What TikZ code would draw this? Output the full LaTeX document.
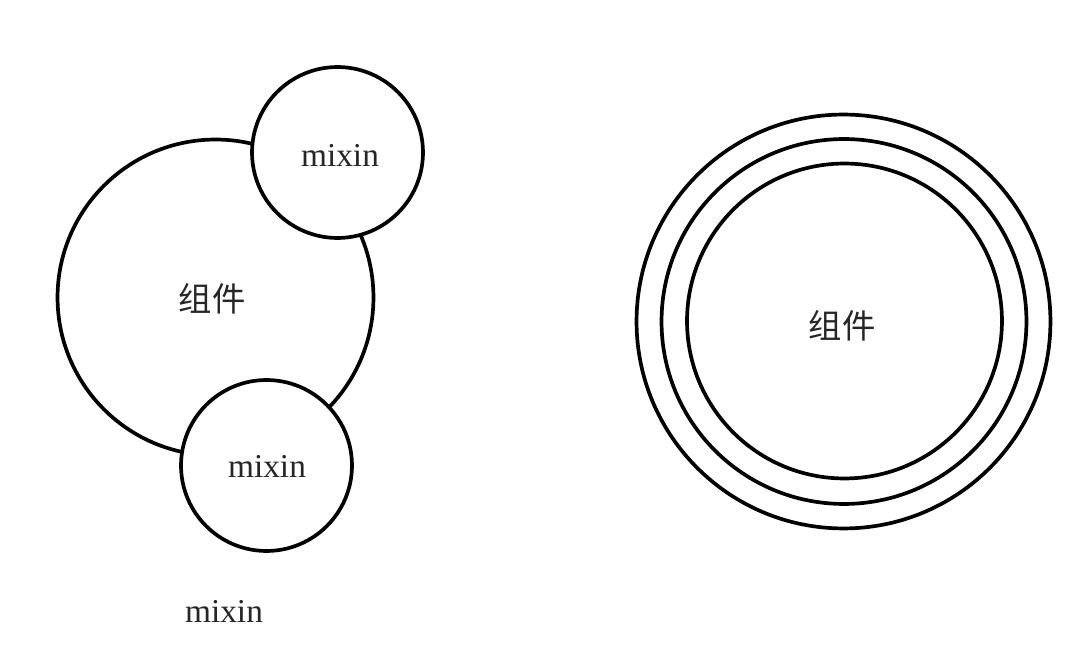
\documentclass[tikz,border=0pt]{standalone}
\usepackage{fontspec}
\setmainfont{Liberation Serif}
\newfontfamily\cjk{Noto Sans CJK SC}
\usepackage{tikz}

\begin{document}
\begin{tikzpicture}[x=0.02cm, y=-0.02cm, line width=2.1pt,
    ring/.style={draw, circle, inner sep=0pt, minimum size=#1},
    label/.style={font=\fontsize{19}{22}\selectfont, text=black!85}]
    \useasboundingbox[fill=white] (0,0) rectangle (1080,662);
    % component with mixins attached
    \node[ring=6.32cm] (comp) at (215.5,297.5) {};
    \node[ring=3.42cm, fill=white] (mixTop) at (337.5,152.5) {};
    \node[ring=3.42cm, fill=white] (mixBot) at (266.5,465.5) {};
    \node[label, font=\cjk\fontsize{19}{22}\selectfont] (compText) at (212,299) {组件};
    \node[label] (mixTopText) at (340,155) {mixin};
    \node[label] (mixBotText) at (267,466) {mixin};
    \node[label] (mixFree) at (224,611) {mixin};
    % component wrapped in layers
    \node[ring=8.28cm] (outer) at (843.5,321.5) {};
    \node[ring=7.3cm] (middle) at (844,321.5) {};
    \node[ring=6.3cm] (inner) at (844.5,321) {};
    \node[label, font=\cjk\fontsize{19}{22}\selectfont] (wrapText) at (842,326) {组件};
\end{tikzpicture}
\end{document}
